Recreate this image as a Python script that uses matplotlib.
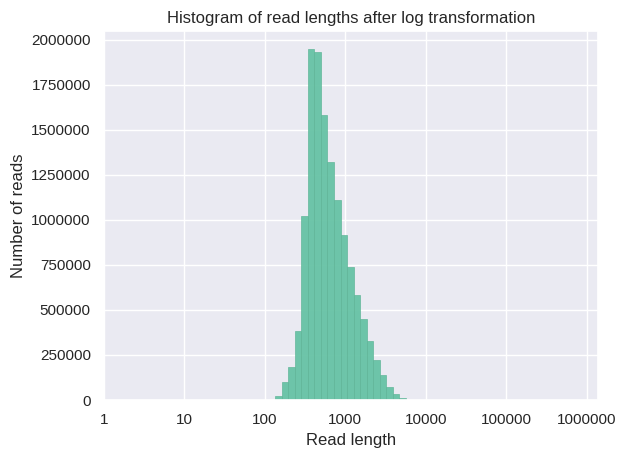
import numpy as np
import seaborn as sns
from matplotlib import pyplot as plt

sns.set_theme(style="darkgrid")
plt.rcParams['font.family'] = ['Liberation Sans', 'DejaVu Sans']

# log10(read length) histogram
bin_start = 2.127   # log10 of first bin edge
bin_width = 0.0813  # decades per bin
counts = [20000, 100000, 183000, 381000, 1020000, 1950000, 1931000, 1581000,
          1320000, 1109000, 917000, 737000, 581000, 450000, 326000, 220000,
          139000, 72000, 33000, 11000]

tick_pos = [0, 1, 2, 3, 4, 5, 6]
tick_labels = ["1", "10", "100", "1000", "10000", "100000", "1000000"]

edges = bin_start + bin_width * np.arange(len(counts) + 1)
centers = (edges[:-1] + edges[1:]) / 2

fig = plt.figure(figsize=(6.25, 4.57), dpi=100)
ax = fig.add_axes([104 / 625, 1 - 400 / 457, (598 - 104) / 625, (400 - 31) / 457])
ax.hist(centers, bins=edges, weights=counts, color='#66c2a5', alpha=0.95,
        edgecolor='#5fb597', linewidth=0.5)

ax.set_xlim(0, 6.14)
ax.set_xticks(tick_pos)
ax.set_xticklabels(tick_labels)
ax.set_yticks(np.arange(0, 2000001, 250000))
ax.ticklabel_format(axis='y', style='plain')
ax.set_xlabel("Read length")
ax.set_ylabel("Number of reads")
ax.set_title("Histogram of read lengths after log transformation")

fig.savefig("out.png", dpi=100)
